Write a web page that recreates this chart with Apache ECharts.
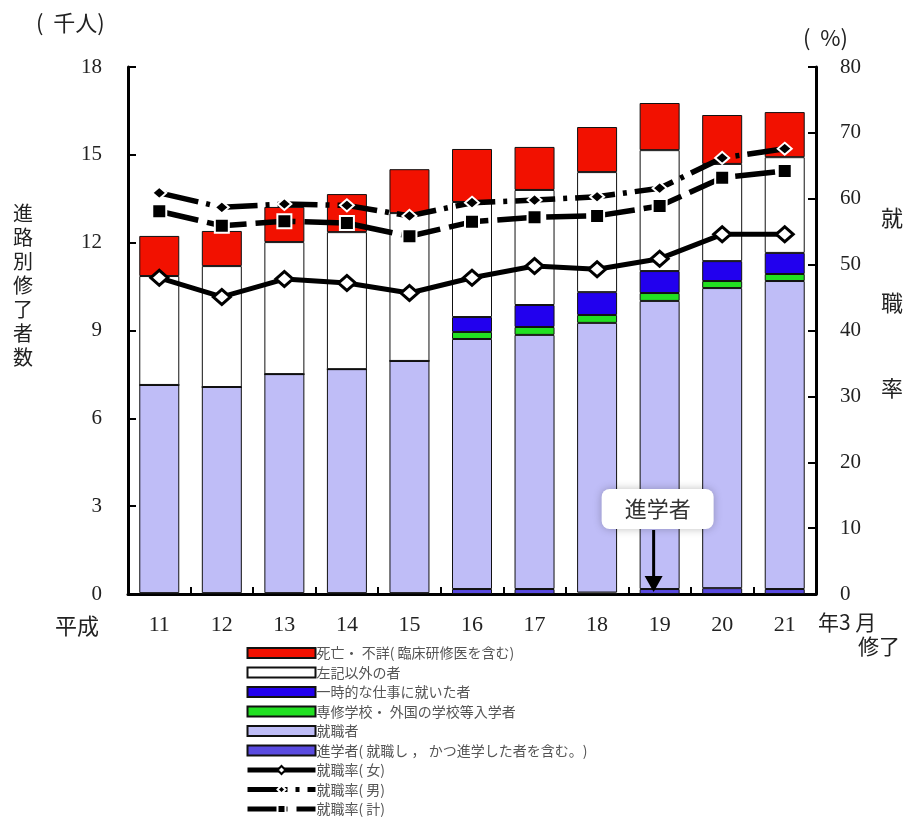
<!DOCTYPE html>
<html>
<head>
<meta charset="UTF-8"/>
<script src="https://cdn.jsdelivr.net/npm/echarts@6/dist/echarts.min.js"></script>
<style type="text/css">
	html, body { margin:0; padding:0; background:#fff; }
	#main { width:911px; height:823px; }
</style>
</head>
<body>
<div id="main"></div>
<script type="text/javascript">

// 年度（平成）
var years = ['11','12','13','14','15','16','17','18','19','20','21'];

// 進路別修了者数（千人）
var shingaku  = [0.03, 0.03, 0.03, 0.03, 0.03, 0.17, 0.17, 0.05, 0.17, 0.20, 0.17];
var shushoku  = [7.11, 7.04, 7.48, 7.65, 7.93, 8.54, 8.68, 9.21, 9.84, 10.25, 10.52];
var senshu    = [0, 0, 0, 0, 0, 0.24, 0.27, 0.27, 0.27, 0.24, 0.24];
var ichiji    = [0, 0, 0, 0, 0, 0.51, 0.75, 0.78, 0.75, 0.68, 0.72];
var sonota    = [3.72, 4.13, 4.51, 4.68, 5.05, 3.93, 3.93, 4.10, 4.13, 3.32, 3.27];
var shibou    = [1.37, 1.20, 1.20, 1.30, 1.50, 1.81, 1.47, 1.54, 1.61, 1.67, 1.54];

// 就職率（%）
var rateF = [48.0, 45.1, 47.8, 47.2, 45.7, 48.0, 49.8, 49.3, 50.9, 54.6, 54.6];
var rateM = [60.9, 58.7, 59.2, 59.0, 57.4, 59.4, 59.8, 60.3, 61.6, 66.2, 67.6];
var rateT = [58.1, 55.9, 56.6, 56.3, 54.3, 56.5, 57.2, 57.4, 58.9, 63.2, 64.2];

var names = [
	'死亡・ 不詳( 臨床研修医を含む)',
	'左記以外の者',
	'一時的な仕事に就いた者',
	'専修学校・ 外国の学校等入学者',
	'就職者',
	'進学者( 就職し ， かつ進学した者を含む。)',
	'就職率( 女)',
	'就職率( 男)',
	'就職率( 計)'
];

var chart = echarts.init(document.getElementById('main'));

function barSeries(name, data, color){
	return {
		name: name,
		type: 'bar',
		stack: 'total',
		barWidth: 40,
		data: data,
		itemStyle: { color: color, borderColor: '#111', borderWidth: 1 }
	};
}

var option = {
	animation: false,
	textStyle: { fontFamily: "'Liberation Serif', 'Noto Sans CJK JP'" },
	grid: { left: 128, right: 95, top: 67, bottom: 229 },
	legend: {
		orient: 'vertical',
		left: 245,
		top: 646,
		height: 177,
		padding: 0,
		itemWidth: 68,
		itemHeight: 10,
		itemGap: 5.5,
		lineStyle: { width: 5 },
		textStyle: { fontFamily: 'Noto Sans CJK JP', fontSize: 14, lineHeight: 14, color: '#555', padding: [0, 0, 0, -4] },
		data: [
			{ name: names[0], icon: 'rect' },
			{ name: names[1], icon: 'rect' },
			{ name: names[2], icon: 'rect' },
			{ name: names[3], icon: 'rect' },
			{ name: names[4], icon: 'rect' },
			{ name: names[5], icon: 'rect' },
			names[6], names[7], names[8]
		]
	},
	xAxis: {
		type: 'category',
		data: years,
		axisLine: { lineStyle: { color: '#000', width: 3 } },
		axisTick: { show: true, inside: true, length: 7, lineStyle: { width: 2, color: '#000' } },
		axisLabel: { fontSize: 22, color: '#222', margin: 20 }
	},
	yAxis: [
		{
			type: 'value', min: 0, max: 18, interval: 3,
			axisLine: { show: true, lineStyle: { color: '#000', width: 3 } },
			axisTick: { show: true, inside: true, length: 8, lineStyle: { width: 2, color: '#000' } },
			splitLine: { show: false },
			axisLabel: { fontSize: 21, color: '#222', margin: 26 }
		},
		{
			type: 'value', min: 0, max: 80, interval: 10, position: 'right',
			axisLine: { show: true, lineStyle: { color: '#000', width: 3 } },
			axisTick: { show: true, inside: true, length: 8, lineStyle: { width: 2, color: '#000' } },
			splitLine: { show: false },
			axisLabel: { fontSize: 21, color: '#222', margin: 24 }
		}
	],
	series: [
		barSeries(names[5], shingaku, '#5a4be0'),
		barSeries(names[4], shushoku, '#bfbdf7'),
		barSeries(names[3], senshu, '#22e022'),
		barSeries(names[2], ichiji, '#2200ee'),
		barSeries(names[1], sonota, '#ffffff'),
		barSeries(names[0], shibou, '#f21100'),
		{
			name: names[6], type: 'line', yAxisIndex: 1, data: rateF, z: 5,
			symbol: 'diamond', symbolSize: [17, 15],
			lineStyle: { color: '#000', width: 5 },
			itemStyle: { color: '#fff', borderColor: '#000', borderWidth: 3 }
		},
		{
			name: names[7], type: 'line', yAxisIndex: 1, data: rateM, z: 6,
			symbol: 'diamond', symbolSize: [14, 12],
			lineStyle: { color: '#000', width: 5.5, type: [40, 8, 4, 8] },
			itemStyle: { color: '#000', borderColor: '#fff', borderWidth: 2 }
		},
		{
			name: names[8], type: 'line', yAxisIndex: 1, data: rateT, z: 5,
			symbol: 'rect', symbolSize: 14,
			lineStyle: { color: '#000', width: 5.5, type: [40, 9] },
			itemStyle: { color: '#000', borderColor: '#fff', borderWidth: 2 }
		}
	],
	graphic: [
		{ type: 'text', left: 36, top: 12, style: { text: '(  千人)', font: '22px "Noto Sans CJK JP"', fill: '#222' } },
		{ type: 'text', left: 803, top: 27, style: { text: '(  %)', font: '22px "Noto Sans CJK JP"', fill: '#222' } },
		{ type: 'text', left: 13, top: 201, style: { text: '進\n路\n別\n修\n了\n者\n数', font: '20px "Noto Sans CJK JP"', fill: '#222', lineHeight: 24 } },
		{ type: 'text', left: 881, top: 207, style: { text: '就', font: '22px "Noto Sans CJK JP"', fill: '#222' } },
		{ type: 'text', left: 881, top: 292, style: { text: '職', font: '22px "Noto Sans CJK JP"', fill: '#222' } },
		{ type: 'text', left: 881, top: 377, style: { text: '率', font: '22px "Noto Sans CJK JP"', fill: '#222' } },
		{ type: 'text', left: 55, top: 615, style: { text: '平成', font: '22px "Noto Sans CJK JP"', fill: '#222' } },
		{ type: 'text', left: 818, top: 612, style: { text: '年3 月', font: '21px "Noto Sans CJK JP"', fill: '#222' } },
		{ type: 'text', left: 858, top: 636, style: { text: '修了', font: '21px "Noto Sans CJK JP"', fill: '#222' } }
	]
};

chart.setOption(option);

// 「進学者」注記: 平成19年の棒の底を指す矢印
var base = chart.convertToPixel({ xAxisIndex: 0, yAxisIndex: 0 }, ['19', 0]);
var ax = base[0] - 6;
chart.setOption({
	graphic: option.graphic.concat([
		{ type: 'rect', shape: { x: ax - 52, y: 489, width: 112, height: 40, r: 8 },
		  style: { fill: '#fff', shadowBlur: 8, shadowColor: 'rgba(0,0,0,0.25)' }, z: 20 },
		{ type: 'text', x: ax + 4, y: 509, z: 21,
		  style: { text: '進学者', font: '22px "Noto Sans CJK JP"', fill: '#333', align: 'center', verticalAlign: 'middle' } },
		{ type: 'line', shape: { x1: ax, y1: 530, x2: ax, y2: base[1] - 16 },
		  style: { stroke: '#000', lineWidth: 3 }, z: 21 },
		{ type: 'polygon', shape: { points: [[ax - 9, base[1] - 18], [ax + 9, base[1] - 18], [ax, base[1] - 2]] },
		  style: { fill: '#000' }, z: 21 }
	])
});
</script>
</body>
</html>
